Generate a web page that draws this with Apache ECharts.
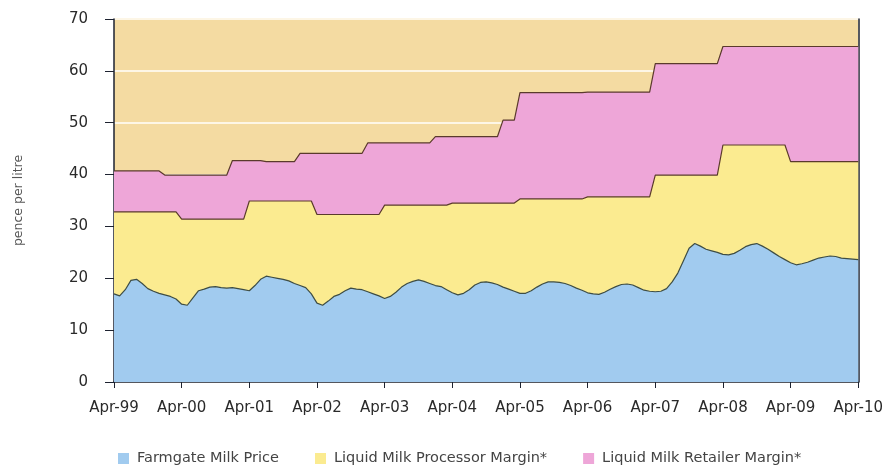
<!DOCTYPE html>
<html>
<head>
<meta charset="utf-8">
<script src="https://cdn.jsdelivr.net/npm/echarts@6/dist/echarts.min.js"></script>
<style>
html,body{margin:0;padding:0;background:#fff;}
#c{width:886px;height:466px;}
</style>
</head>
<body>
<div id="c"></div>
<script>
// Tick labels (yearly, April)
var tickLabels = ['Apr-99','Apr-00','Apr-01','Apr-02','Apr-03','Apr-04','Apr-05','Apr-06','Apr-07','Apr-08','Apr-09','Apr-10'];
var monthNames = ['Apr','May','Jun','Jul','Aug','Sep','Oct','Nov','Dec','Jan','Feb','Mar'];

// Farmgate milk price (pence per litre), monthly Apr-99 .. Apr-10
var farmgate = [
17.0,16.6,17.8,19.6,19.8,19.0,18.0,17.5,17.1,16.8,16.5,16.0,
15.0,14.8,16.2,17.6,17.9,18.3,18.4,18.2,18.1,18.2,18.0,17.8,
17.6,18.6,19.8,20.4,20.2,20.0,19.8,19.5,19.0,18.6,18.2,17.0,
15.2,14.8,15.6,16.5,16.9,17.6,18.1,17.9,17.8,17.4,17.0,16.6,
16.1,16.5,17.3,18.3,19.0,19.4,19.7,19.4,19.0,18.6,18.4,17.8,
17.2,16.8,17.1,17.8,18.7,19.2,19.3,19.1,18.8,18.3,17.9,17.5,
17.1,17.1,17.6,18.3,18.9,19.3,19.3,19.2,19.0,18.6,18.1,17.7,
17.2,17.0,16.9,17.3,17.9,18.4,18.8,18.9,18.7,18.2,17.7,17.5,
17.4,17.5,18.0,19.3,21.0,23.4,25.8,26.7,26.2,25.6,25.3,25.0,
24.6,24.5,24.8,25.4,26.1,26.5,26.7,26.2,25.6,24.9,24.2,23.6,
23.0,22.6,22.8,23.1,23.5,23.9,24.1,24.3,24.2,23.9,23.8,23.7,23.6
];

// Liquid milk processor margin (pence per litre)
var processorMargin = [
15.8,16.2,15.0,13.2,13.0,13.8,14.8,15.3,15.7,16.0,16.3,16.8,
16.4,16.6,15.2,13.8,13.5,13.1,13.0,13.2,13.3,13.2,13.4,13.6,
17.3,16.3,15.1,14.5,14.7,14.9,15.1,15.4,15.9,16.3,16.7,17.9,
17.1,17.5,16.7,15.8,15.4,14.7,14.2,14.4,14.5,14.9,15.3,15.7,
18.0,17.6,16.8,15.8,15.1,14.7,14.4,14.7,15.1,15.5,15.7,16.3,
17.3,17.7,17.4,16.7,15.8,15.3,15.2,15.4,15.7,16.2,16.6,17.0,
18.2,18.2,17.7,17.0,16.4,16.0,16.0,16.1,16.3,16.7,17.2,17.6,
18.5,18.7,18.8,18.4,17.8,17.3,16.9,16.8,17.0,17.5,18.0,18.2,
22.5,22.4,21.9,20.6,18.9,16.5,14.1,13.2,13.7,14.3,14.6,14.9,
21.1,21.2,20.9,20.3,19.6,19.2,19.0,19.5,20.1,20.8,21.5,22.1,
19.5,19.9,19.7,19.4,19.0,18.6,18.4,18.2,18.3,18.6,18.7,18.8,18.9
];

// Liquid milk retailer margin (pence per litre)
var retailerMargin = [
7.9,7.9,7.9,7.9,7.9,7.9,7.9,7.9,7.9,7.1,7.1,7.1,
8.5,8.5,8.5,8.5,8.5,8.5,8.5,8.5,8.5,11.3,11.3,11.3,
7.8,7.8,7.8,7.6,7.6,7.6,7.6,7.6,7.6,9.2,9.2,9.2,
11.8,11.8,11.8,11.8,11.8,11.8,11.8,11.8,11.8,13.8,13.8,13.8,
12.0,12.0,12.0,12.0,12.0,12.0,12.0,12.0,12.0,13.2,13.2,13.2,
12.8,12.8,12.8,12.8,12.8,12.8,12.8,12.8,12.8,16.0,16.0,16.0,
20.5,20.5,20.5,20.5,20.5,20.5,20.5,20.5,20.5,20.5,20.5,20.5,
20.2,20.2,20.2,20.2,20.2,20.2,20.2,20.2,20.2,20.2,20.2,20.2,
21.5,21.5,21.5,21.5,21.5,21.5,21.5,21.5,21.5,21.5,21.5,21.5,
19.0,19.0,19.0,19.0,19.0,19.0,19.0,19.0,19.0,19.0,19.0,19.0,
22.2,22.2,22.2,22.2,22.2,22.2,22.2,22.2,22.2,22.2,22.2,22.2,22.2
];

var seriesNames = ['Farmgate Milk Price','Liquid Milk Processor Margin*','Liquid Milk Retailer Margin*'];

// Month categories built from the tick-label years
var categories = [];
for (var y = 0; y < tickLabels.length; y++) {
  var yy = tickLabels[y].slice(4);
  var nextYy = y + 1 < tickLabels.length ? tickLabels[y + 1].slice(4) : yy;
  for (var m = 0; m < 12; m++) {
    if (y === tickLabels.length - 1 && m > 0) break;
    categories.push(monthNames[m] + '-' + (m < 9 ? yy : nextYy));
  }
}

var colBlue = '#a1cbef', colYellow = '#fbeb90', colPink = '#eea6d8';
var font = '"DejaVu Sans", Verdana, sans-serif';

var chart = echarts.init(document.getElementById('c'), null, {renderer: 'canvas'});
chart.setOption({
  animation: false,
  backgroundColor: '#ffffff',
  grid: {left: 114, right: 27, top: 19, bottom: 84, show: true, backgroundColor: '#f4dba2', borderWidth: 0},
  legend: {
    left: 113, top: 446, icon: 'rect', itemWidth: 11, itemHeight: 11, itemGap: 36,
    textStyle: {fontFamily: font, fontSize: 14.5, color: '#444', padding: [0, 0, 0, 3]},
    data: [
      {name: seriesNames[0], itemStyle: {color: colBlue, borderWidth: 0}},
      {name: seriesNames[1], itemStyle: {color: colYellow, borderWidth: 0}},
      {name: seriesNames[2], itemStyle: {color: colPink, borderWidth: 0}}
    ]
  },
  xAxis: {
    type: 'category', data: categories, boundaryGap: false,
    axisLine: {lineStyle: {color: '#1d2230', width: 1.5}},
    axisTick: {interval: 11, length: 6, lineStyle: {color: '#1d2230'}},
    axisLabel: {
      interval: 11, margin: 19, fontFamily: font, fontSize: 15, color: '#2a2a2a',
      formatter: function (v, i) { return tickLabels[Math.round(i / 12)]; }
    },
    splitLine: {show: false}
  },
  yAxis: [{
    type: 'value', min: 0, max: 70, interval: 10,
    name: 'pence per litre', nameLocation: 'middle', nameRotate: 90, nameGap: 89,
    nameTextStyle: {fontFamily: font, fontSize: 12.5, color: '#555'},
    axisLine: {show: true, lineStyle: {color: '#1d2230', width: 1.5}},
    axisTick: {show: true, length: 9, lineStyle: {color: '#1d2230'}},
    axisLabel: {margin: 26, fontFamily: font, fontSize: 15, color: '#2a2a2a'},
    splitLine: {show: true, lineStyle: {color: '#fdf6e6', width: 2}}
  }, {
    type: 'value', min: 0, max: 70, position: 'right',
    axisLine: {show: true, lineStyle: {color: '#1d2230', width: 1.5}},
    axisTick: {show: false}, axisLabel: {show: false}, splitLine: {show: false}
  }],
  series: [
    {name: seriesNames[0], type: 'line', stack: 'total', data: farmgate, symbol: 'none',
     itemStyle: {color: colBlue}, lineStyle: {color: '#3e4d44', width: 1.2},
     areaStyle: {color: colBlue, opacity: 1}, z: 5},
    {name: seriesNames[1], type: 'line', stack: 'total', data: processorMargin, symbol: 'none',
     itemStyle: {color: colYellow}, lineStyle: {color: '#5a3a2c', width: 1.2},
     areaStyle: {color: colYellow, opacity: 1}, z: 4},
    {name: seriesNames[2], type: 'line', stack: 'total', data: retailerMargin, symbol: 'none',
     itemStyle: {color: colPink}, lineStyle: {color: '#5a3a2c', width: 1.2},
     areaStyle: {color: colPink, opacity: 1}, z: 3}
  ]
});
</script>
</body>
</html>
